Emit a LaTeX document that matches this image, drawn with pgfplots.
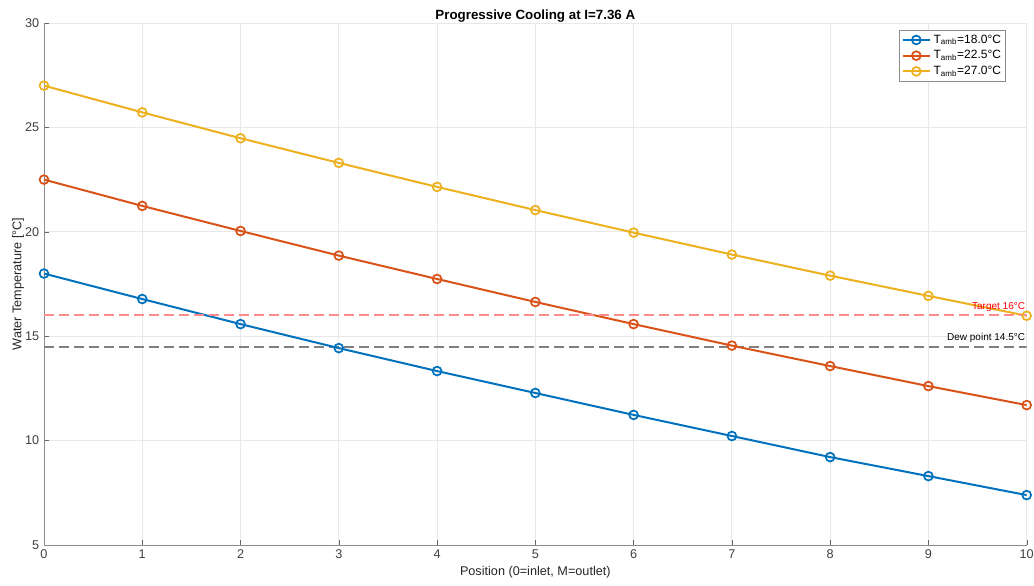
\documentclass[border=0pt]{standalone}
\usepackage{pgfplots}
\pgfplotsset{compat=1.18}
\usepackage{fontspec}
\setmainfont{Liberation Sans}
\definecolor{mblue}{rgb}{0,0.447,0.741}
\definecolor{morange}{rgb}{0.85,0.325,0.098}
\definecolor{myellow}{rgb}{0.929,0.694,0.125}
\definecolor{tred}{rgb}{1,0.55,0.55}
\begin{document}
\begin{tikzpicture}[x=1pt,y=1pt]
\begin{axis}[
  at={(0,0)}, anchor=south west,
  scale only axis,
  width=737pt, height=391.5pt,
  xmin=0, xmax=10, ymin=5, ymax=30,
  xtick={0,...,10}, ytick={5,10,...,30},
  axis x line*=bottom, axis y line*=left,
  axis line style={draw=black!45},
  tick style={draw=black!60},
  tick align=inside,
  major tick length=4pt,
  grid=major,
  major grid style={draw=black!9, line width=0.6pt},
  tick label style={font=\fontsize{9.5}{11}\selectfont, text=black!75},
  /pgf/number format/assume math mode=true,
  xlabel={Position (0=inlet, M=outlet)},
  ylabel={Water Temperature [°C]},
  label style={font=\fontsize{9.5}{11}\selectfont, text=black!85},
  xlabel style={yshift=1pt},
  ylabel style={yshift=-6pt},
  title={\textbf{Progressive Cooling at I=7.36 A}},
  title style={font=\fontsize{10}{12}\selectfont, yshift=-9pt},
  legend style={at={(rel axis cs:0.979,0.987)}, anchor=north east,
    font=\fontsize{9}{11}\selectfont, draw=black!45, line width=0.5pt,
    inner sep=1.5pt, row sep=0pt, cells={anchor=west}},
  legend cell align=left,
  legend image code/.code={\draw[mark repeat=2,mark phase=2] plot coordinates {(0cm,0cm) (0.36cm,0cm) (0.72cm,0cm)};},
  every axis plot/.append style={line width=1.5pt, mark=o, mark size=3.3pt, mark options={line width=1.3pt}},
]
\addplot[forget plot, mark=none, line width=1.3pt, dash pattern=on 7.5pt off 3.75pt, color=black!50] coordinates {(0,14.5)(10,14.5)};
\addplot[color=mblue] coordinates {(0,18.00)(1,16.78)(2,15.58)(3,14.43)(4,13.33)(5,12.28)(6,11.23)(7,10.22)(8,9.21)(9,8.30)(10,7.39)};
\addlegendentry{T\textsubscript{amb}=18.0°C}
\addplot[color=morange] coordinates {(0,22.50)(1,21.24)(2,20.04)(3,18.86)(4,17.74)(5,16.64)(6,15.58)(7,14.55)(8,13.57)(9,12.61)(10,11.70)};
\addlegendentry{T\textsubscript{amb}=22.5°C}
\addplot[color=myellow] coordinates {(0,27.00)(1,25.72)(2,24.48)(3,23.30)(4,22.15)(5,21.04)(6,19.96)(7,18.91)(8,17.90)(9,16.93)(10,15.98)};
\addlegendentry{T\textsubscript{amb}=27.0°C}
\addplot[forget plot, mark=none, line width=1.3pt, dash pattern=on 7.5pt off 3.75pt, draw=tred] coordinates {(0,16)(10,16)};
\node[anchor=south east, font=\fontsize{7.5}{9}\selectfont, text=red, inner sep=1pt] at (axis cs:10,16.1) {Target 16°C};
\node[anchor=south east, font=\fontsize{7.5}{9}\selectfont, text=black, inner sep=1pt] at (axis cs:10,14.6) {Dew point 14.5°C};
\end{axis}
\pgfresetboundingbox
\path (-33pt,-30pt) rectangle (742.5pt,408.75pt);
\end{tikzpicture}
\end{document}
